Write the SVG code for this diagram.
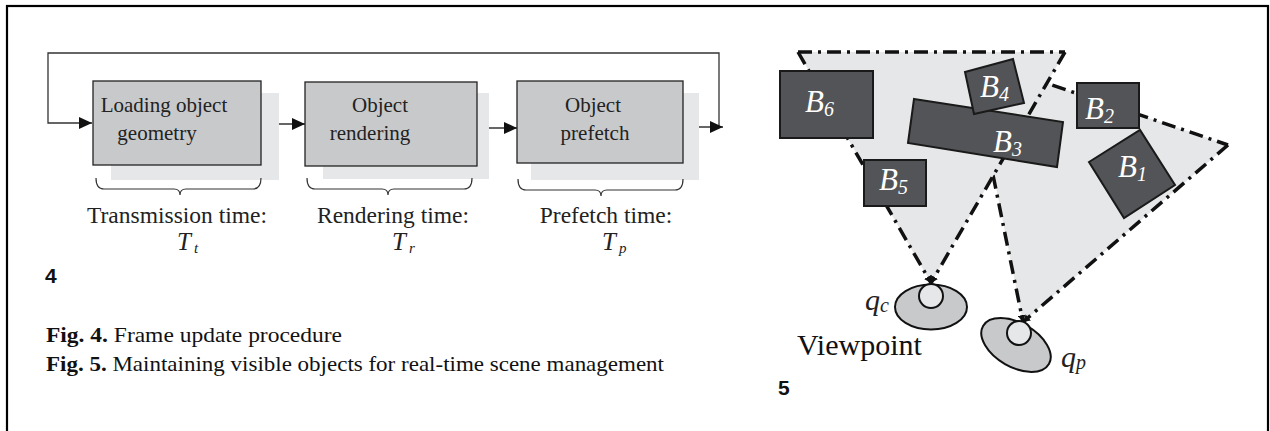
<svg xmlns="http://www.w3.org/2000/svg" width="1270" height="431" viewBox="0 0 1270 431">
<defs>
<marker id="ah" markerUnits="userSpaceOnUse" markerWidth="14" markerHeight="12" refX="13" refY="6" orient="auto">
<path d="M0,0 L13,6 L0,12 Z" fill="#111"/>
</marker>
<marker id="ahs" markerUnits="userSpaceOnUse" markerWidth="8" markerHeight="8" refX="7" refY="4" orient="auto">
<path d="M0,0 L7,4 L0,8 Z" fill="#111"/>
</marker>
<style>
.frame{fill:none;stroke:#000;stroke-width:2.2}
.shadow{fill:#e6e7e8}
.box{fill:#c8c9cb;stroke:#222;stroke-width:1.3}
.serif{font-family:"Liberation Serif","Times New Roman",serif}
.lbl{font-size:21px;fill:#222}
.cap{font-size:23.5px;fill:#222}
.it{font-style:italic;fill:#222}
.conn{fill:none;stroke:#333;stroke-width:1.3}
.brace{fill:none;stroke:#333;stroke-width:1.2}
.fig{font-family:"Liberation Sans",Arial,sans-serif;font-weight:bold;font-size:21px;fill:#111}
.caption{font-size:21px;fill:#111}
.fov{fill:#e6e7e8}
.dd{fill:none;stroke:#111;stroke-width:3.5;stroke-dasharray:14 6 3 6}
.blk{fill:#535457;stroke:#1a1a1a;stroke-width:2}
.bl{font-style:italic;font-size:31px;fill:#fff}
.bs{font-size:20px}
.ell{fill:#c8c9cb;stroke:#111;stroke-width:2}
.eye{fill:#e6e7e8;stroke:#111;stroke-width:2}
</style>
</defs>
<rect class="frame" x="7" y="6" width="1261" height="450"/>

<!-- Fig 4 -->
<g id="connectors">
<polyline class="conn" points="719,127 719,53 48,53 48,123 92,123" marker-end="url(#ah)"/>
<line class="conn" x1="683" y1="127" x2="723" y2="127" marker-end="url(#ah)"/>
<line class="conn" x1="261" y1="124" x2="305" y2="124" marker-end="url(#ah)"/>
<line class="conn" x1="477" y1="128" x2="517" y2="128" marker-end="url(#ah)"/>
</g>
<g id="node-loading">
<rect class="shadow" x="111" y="93" width="168" height="87"/>
<rect class="box" x="93" y="81" width="168" height="84"/>
<text class="serif lbl" x="164" y="112" text-anchor="middle">Loading object</text>
<text class="serif lbl" x="157" y="140" text-anchor="middle">geometry</text>
</g>
<g id="node-rendering">
<rect class="shadow" x="323" y="93" width="166" height="86"/>
<rect class="box" x="305" y="82" width="172" height="84"/>
<text class="serif lbl" x="380" y="112" text-anchor="middle">Object</text>
<text class="serif lbl" x="370" y="140" text-anchor="middle">rendering</text>
</g>
<g id="node-prefetch">
<rect class="shadow" x="531" y="93" width="168" height="87"/>
<rect class="box" x="517" y="81" width="166" height="82"/>
<text class="serif lbl" x="593" y="112" text-anchor="middle">Object</text>
<text class="serif lbl" x="595" y="140" text-anchor="middle">prefetch</text>
</g>
<g id="braces">
<path class="brace" d="M96,178 Q96,189 104,189 L174,189 Q180,189 180,195 Q180,189 186,189 L253,189 Q261,189 261,178"/>
<path class="brace" d="M307,178 Q307,189 315,189 L382,189 Q388,189 388,195 Q388,189 394,189 L464,189 Q472,189 472,178"/>
<path class="brace" d="M518,179 Q518,190 526,190 L595,190 Q601,190 601,196 Q601,190 607,190 L675,190 Q683,190 683,179"/>
</g>
<g id="time-labels">
<text class="serif cap" x="177" y="223" text-anchor="middle">Transmission time:</text>
<text class="serif cap" x="393" y="223" text-anchor="middle">Rendering time:</text>
<text class="serif cap" x="606" y="223" text-anchor="middle">Prefetch time:</text>
<text class="serif it" x="177" y="250" style="font-size:25px">T<tspan style="font-size:15px" dx="3" dy="3">t</tspan></text>
<text class="serif it" x="392" y="250" style="font-size:25px">T<tspan style="font-size:15px" dx="3" dy="3">r</tspan></text>
<text class="serif it" x="602" y="250" style="font-size:25px">T<tspan style="font-size:15px" dx="3" dy="3">p</tspan></text>
</g>
<text class="fig" x="45" y="283">4</text>
<text class="serif caption" x="46" y="342" textLength="296" lengthAdjust="spacingAndGlyphs"><tspan font-weight="bold">Fig. 4.</tspan> Frame update procedure</text>
<text class="serif caption" x="46" y="371" textLength="618" lengthAdjust="spacingAndGlyphs"><tspan font-weight="bold">Fig. 5.</tspan> Maintaining visible objects for real-time scene management</text>

<!-- Fig 5 -->
<g id="fov-prefetch">
<polygon class="fov" points="970,57 1228,145 1023,322"/>
<line class="dd" x1="1228" y1="145" x2="1023" y2="322" marker-end="url(#ahs)"/>
<line class="dd" x1="970" y1="57" x2="1228" y2="145"/>
<line class="dd" x1="993" y1="175" x2="1023" y2="322" marker-end="url(#ahs)"/>
</g>
<g id="fov-current">
<polygon class="fov" points="798,52 1065,52 931,283"/>
<line class="dd" x1="798" y1="52" x2="1065" y2="52"/>
<line class="dd" x1="798" y1="52" x2="931" y2="283" marker-end="url(#ahs)"/>
<line class="dd" x1="1065" y1="52" x2="931" y2="283" marker-end="url(#ahs)"/>
</g>
<g id="B6">
<rect class="blk" x="780" y="71" width="93" height="67"/>
<text class="serif bl" x="805" y="112">B<tspan class="bs" dy="4">6</tspan></text>
</g>
<g id="B5">
<rect class="blk" x="864" y="160" width="62" height="46"/>
<text class="serif bl" x="879" y="190">B<tspan class="bs" dy="4">5</tspan></text>
</g>
<g id="B3">
<polygon class="blk" points="914,99 1063,122 1057,167 908,143"/>
<text class="serif bl" x="993" y="152">B<tspan class="bs" dy="4">3</tspan></text>
</g>
<g id="B4">
<polygon class="blk" points="965,72 1013,59 1024,103 974,114"/>
<text class="serif bl" x="980" y="97">B<tspan class="bs" dy="4">4</tspan></text>
</g>
<g id="B2">
<rect class="blk" x="1077" y="83" width="62" height="45"/>
<text class="serif bl" x="1085" y="119">B<tspan class="bs" dy="4">2</tspan></text>
</g>
<g id="B1">
<polygon class="blk" points="1089,162 1140,130 1175,185 1124,218"/>
<text class="serif bl" x="1118" y="177">B<tspan class="bs" dy="4">1</tspan></text>
</g>
<g id="viewpoint-qc">
<ellipse class="ell" cx="931" cy="307" rx="36" ry="22.5"/>
<circle class="eye" cx="931" cy="296" r="12"/>
<text class="serif it" x="865" y="310" style="font-size:30px">q<tspan style="font-size:20px" dy="2">c</tspan></text>
</g>
<g id="viewpoint-qp">
<ellipse class="ell" cx="1016" cy="345" rx="38" ry="22" transform="rotate(30 1016 345)"/>
<circle class="eye" cx="1019" cy="333" r="12"/>
<text class="serif it" x="1061" y="367" style="font-size:30px">q<tspan style="font-size:20px" dy="2">p</tspan></text>
</g>
<text class="serif" x="797" y="355" style="font-size:30px;fill:#111">Viewpoint</text>
<text class="fig" x="778" y="395">5</text>
</svg>
